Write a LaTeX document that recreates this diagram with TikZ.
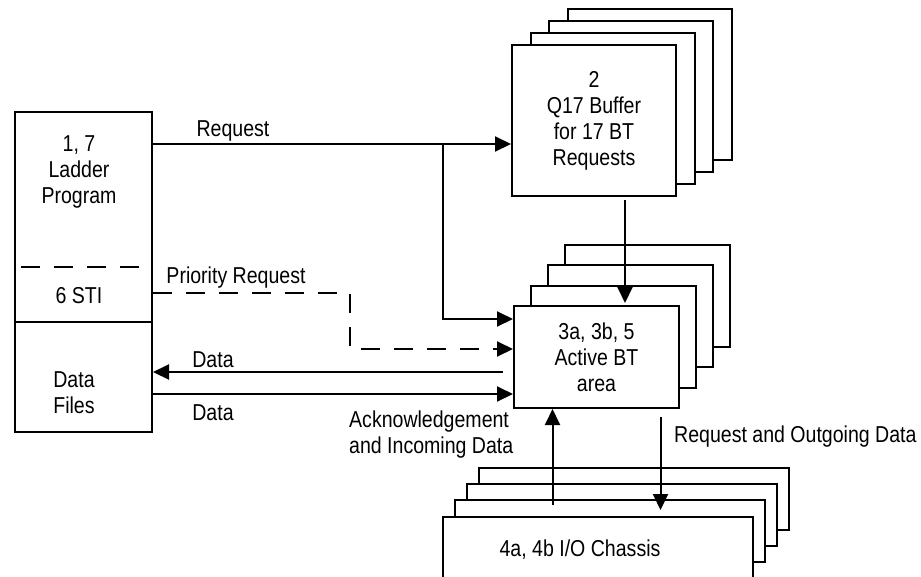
\documentclass[tikz,border=0pt]{standalone}
\usepackage{fontspec}
\setmainfont{Liberation Sans}[FakeStretch=0.85]
\usetikzlibrary{positioning,arrows.meta,calc}

\begin{document}
\begin{tikzpicture}[x=1pt, y=-1pt,
  every node/.style={font=\fontsize{23}{26}\selectfont},
  card/.style={draw, fill=white, line width=2pt, inner sep=0pt, align=center},
  bufbox/.style={card, minimum width=164, minimum height=151},
  actbox/.style={card, minimum width=165, minimum height=102},
  chasbox/.style={card, minimum width=310, minimum height=62},
  arr/.style={-{Triangle[length=16pt,width=15pt]}, line width=2pt},
  dsh/.style={dash pattern=on 19pt off 14pt},
  lab/.style={inner sep=0pt, align=left}]

\clip (0,0) rectangle (921,576);

% PLC memory
\node[card, minimum width=137, minimum height=320] (plc) at (83.5,272) {};
\draw[line width=2pt, dsh] ($(plc.west |- 0,267)+(7,0)$) -- ($(plc.east |- 0,267)+(-13,0)$);
\draw[line width=2pt] (plc.west |- 0,322) -- (plc.east |- 0,322);
\node[align=center] (ladder) at (79,172) {1, 7\\Ladder\\Program};
\node (sti) at (79,296) {6 STI};
\node[align=center] (files) at (74,393) {Data\\Files};

% buffer stack
\coordinate (bufc) at (594,120.5);
\foreach \i in {3,2,1}
  \node[bufbox] at ($(bufc)+(\i*18.7,-\i*12)$) {};
\node[bufbox] (buf) at (bufc) {2\\Q17 Buffer\\for 17 BT\\Requests};

% active BT stack
\coordinate (actc) at (596.5,357);
\foreach \i in {3,2,1}
  \node[actbox] at ($(actc)+(\i*17,-\i*20.5)$) {};
\node[actbox] (act) at (actc) {3a, 3b, 5\\Active BT\\area};

% I/O chassis stack
\coordinate (chasc) at (598,547.7);
\foreach \i in {3,2,1}
  \node[chasbox] at ($(chasc)+(\i*12.1,-\i*16.3)$) {};
\node[chasbox] (chas) at (chasc) {};
\node (chaslab) at (580,550) {4a, 4b I/O Chassis};

% free ends
\coordinate (split) at (443,144);
\coordinate (dl) at (503,372);
\coordinate (bufout) at (625,200);
\coordinate (ackin) at (552.5,505);
\coordinate (reqout) at (660.5,417);
\coordinate (reqin) at (660.5,510);

\draw[arr] (plc.east |- split) -- (buf.west |- split);
\draw[arr] (split) |- (act.west |- 0,319);
\draw[arr, dsh] (plc.east |- 0,293) -| (350,349) -- (act.west |- 0,349);
\draw[arr] (dl) -- (plc.east |- dl);
\draw[arr] (plc.east |- 0,394) -- (act.west |- 0,394);
\draw[arr] (bufout) -- (625,303);
\draw[arr] (ackin) -- (act.south -| ackin);
\draw[arr] (reqout) -- (reqin);

% labels
\node[lab] (reqlab) at (233,131) {Request};
\node[lab] (priolab) at (236,278) {Priority Request};
\node[lab] (datalab1) at (213,360) {Data};
\node[lab] (datalab2) at (213,413) {Data};
\node[lab, anchor=west] (acklab) at (349,434.7) {Acknowledgement\\and Incoming Data};
\node[lab, anchor=west] (outlab) at (674,436.7) {Request and Outgoing Data};
\end{tikzpicture}
\end{document}
